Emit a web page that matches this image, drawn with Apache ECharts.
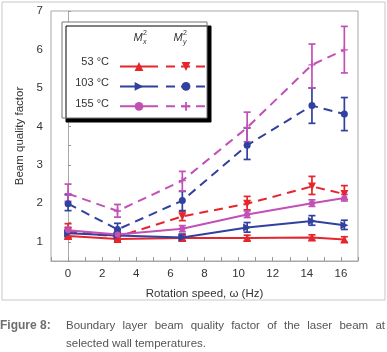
<!DOCTYPE html>
<html>
<head>
<meta charset="utf-8">
<script src="https://cdn.jsdelivr.net/npm/echarts@6/dist/echarts.min.js"></script>
<style>
  html, body { margin: 0; padding: 0; background: #fff; }
  #chart { width: 387px; height: 352px; }
</style>
</head>
<body>
<div id="chart"></div>
<script>
// rotation speed (Hz)
var speed = [0, 2.9, 6.7, 10.5, 14.3, 16.2];

// 53 C
var mx53 = [1.15, 1.07, 1.10, 1.10, 1.11, 1.06];
var mx53Lo = [1.07, 1.00, 1.03, 1.03, 1.04, 0.99];
var mx53Hi = [1.23, 1.14, 1.17, 1.17, 1.18, 1.13];
var my53 = [1.27, 1.13, 1.66, 1.99, 2.44, 2.24];
var my53Lo = [1.08, 1.03, 1.55, 1.83, 2.23, 2.10];
var my53Hi = [1.47, 1.25, 1.78, 2.18, 2.70, 2.46];

// 103 C
var mx103 = [1.22, 1.16, 1.11, 1.37, 1.54, 1.43];
var mx103Lo = [1.12, 1.07, 1.03, 1.25, 1.43, 1.32];
var mx103Hi = [1.30, 1.25, 1.20, 1.50, 1.68, 1.56];
var my103 = [1.99, 1.32, 2.07, 3.51, 4.54, 4.32];
var my103Lo = [1.81, 1.17, 1.81, 3.14, 4.08, 3.89];
var my103Hi = [2.22, 1.48, 2.31, 3.96, 5.00, 4.75];

// 155 C
var mx155 = [1.30, 1.19, 1.34, 1.71, 2.00, 2.14];
var mx155Lo = [1.22, 1.10, 1.26, 1.63, 1.92, 2.06];
var mx155Hi = [1.38, 1.28, 1.42, 1.80, 2.09, 2.23];
var my155 = [2.25, 1.80, 2.59, 3.97, 5.60, 5.99];
var my155Lo = [2.05, 1.64, 2.32, 3.60, 5.00, 5.39];
var my155Hi = [2.50, 1.97, 2.83, 4.37, 6.14, 6.60];

var tempLabels = ['53 °C', '103 °C', '155 °C'];

var RED = '#e5262d', BLUE = '#3041a0', MAG = '#c251b6';
var PLUS = 'path://M4,0H6V4H10V6H6V10H4V6H0V4H4Z';
var FONT = 'Liberation Sans, Arial, sans-serif';

var chart = echarts.init(document.getElementById('chart'));

function pts(ys) {
    return speed.map(function (s, i) { return [s, ys[i]]; });
}
function bars(lo, hi) {
    return speed.map(function (s, i) { return [s, lo[i], hi[i]]; });
}

function lineSeries(name, ys, color, dashed, symbol, rotate, size) {
    return {
        name: name,
        type: 'line',
        data: pts(ys),
        symbol: symbol,
        symbolSize: size,
        symbolRotate: rotate,
        color: color,
        itemStyle: { color: color },
        lineStyle: { color: color, width: 2, type: dashed ? [9, 6] : 'solid' },
        z: 3
    };
}

function errSeries(lo, hi, color) {
    return {
        type: 'custom',
        data: bars(lo, hi),
        encode: { x: 0, y: [1, 2] },
        silent: true,
        z: 2,
        renderItem: function (params, api) {
            var a = api.coord([api.value(0), api.value(1)]);
            var b = api.coord([api.value(0), api.value(2)]);
            var w = 3.5;
            var st = { stroke: color, lineWidth: 1.7 };
            return {
                type: 'group',
                children: [
                    { type: 'line', shape: { x1: a[0], y1: a[1], x2: b[0], y2: b[1] }, style: st },
                    { type: 'line', shape: { x1: a[0] - w, y1: a[1], x2: a[0] + w, y2: a[1] }, style: st },
                    { type: 'line', shape: { x1: b[0] - w, y1: b[1], x2: b[0] + w, y2: b[1] }, style: st }
                ]
            };
        }
    };
}

// legend text / header as graphics
var graphics = [
    { type: 'rect', shape: { x: 2, y: 2, width: 383, height: 298 },
      style: { fill: 'none', stroke: '#c8c8c8', lineWidth: 1 }, z: -1 },
    { type: 'rect', shape: { x: 62, y: 22, width: 145, height: 96 },
      style: { fill: '#fff', stroke: '#777', lineWidth: 1,
               shadowColor: '#000', shadowOffsetX: 4, shadowOffsetY: 4, shadowBlur: 0 }, z: 10 },
    { type: 'text', x: 138, y: 38, z: 11,
      style: { text: 'M', font: 'italic 11px ' + FONT, fill: '#333', align: 'center', verticalAlign: 'middle' } },
    { type: 'text', x: 143, y: 33, z: 11,
      style: { text: '2', font: '7px ' + FONT, fill: '#333', verticalAlign: 'middle' } },
    { type: 'text', x: 143, y: 42, z: 11,
      style: { text: 'x', font: 'italic 7px ' + FONT, fill: '#333', verticalAlign: 'middle' } },
    { type: 'text', x: 178, y: 38, z: 11,
      style: { text: 'M', font: 'italic 11px ' + FONT, fill: '#333', align: 'center', verticalAlign: 'middle' } },
    { type: 'text', x: 183, y: 33, z: 11,
      style: { text: '2', font: '7px ' + FONT, fill: '#333', verticalAlign: 'middle' } },
    { type: 'text', x: 183, y: 42, z: 11,
      style: { text: 'y', font: 'italic 7px ' + FONT, fill: '#333', verticalAlign: 'middle' } }
];
tempLabels.forEach(function (t, i) {
    graphics.push({ type: 'text', x: 109, y: 62 + i * 21, z: 11,
        style: { text: t, font: '11px ' + FONT, fill: '#333', align: 'right', verticalAlign: 'middle' } });
});

// caption, first line justified
var ctx = document.createElement('canvas').getContext('2d');
ctx.font = '11.5px ' + FONT;
var words = 'Boundary layer beam quality factor of the laser beam at'.split(' ');
var wsum = 0;
words.forEach(function (w) { wsum += ctx.measureText(w).width; });
var gap = (385 - 66 - wsum) / (words.length - 1);
var cx = 66;
words.forEach(function (w) {
    graphics.push({ type: 'text', x: cx, y: 326,
        style: { text: w, font: '11.5px ' + FONT, fill: '#555', verticalAlign: 'middle' } });
    cx += ctx.measureText(w).width + gap;
});
graphics.push({ type: 'text', x: 66, y: 344,
    style: { text: 'selected wall temperatures.', font: '11.5px ' + FONT, fill: '#555', verticalAlign: 'middle' } });
graphics.push({ type: 'text', x: 0, y: 326,
    style: { text: 'Figure 8:', font: 'bold 12px "Liberation Sans Narrow", ' + FONT, fill: '#6e6e6e', verticalAlign: 'middle' } });

var option = {
    backgroundColor: '#fff',
    animation: false,
    textStyle: { fontFamily: FONT },
    grid: {
        left: 51, right: 29, top: 11, bottom: 91,
        show: true, borderColor: '#a8a8a8', borderWidth: 1
    },
    legend: [
        {
            data: ['53 Mx', '103 Mx', '155 Mx'],
            orient: 'vertical', left: 114, top: 56,
            itemWidth: 38, itemHeight: 11, itemGap: 10,
            formatter: function () { return ''; },
            selectedMode: false, z: 12
        },
        {
            data: ['53 My', '103 My', '155 My'],
            orient: 'vertical', left: 160, top: 56,
            itemWidth: 40, itemHeight: 11, itemGap: 10,
            formatter: function () { return ''; },
            selectedMode: false, z: 12
        }
    ],
    xAxis: {
        type: 'value', min: -1, max: 17, interval: 1,
        name: 'Rotation speed, ω (Hz)', nameLocation: 'middle', nameGap: 27,
        nameTextStyle: { fontSize: 11.5, color: '#333' },
        axisLine: { lineStyle: { color: '#a8a8a8' } },
        axisTick: { inside: true, length: 4, lineStyle: { color: '#999' } },
        axisLabel: {
            fontSize: 11.5, color: '#333', margin: 7,
            formatter: function (v) { return (v >= 0 && v % 2 === 0) ? String(v) : ''; }
        },
        splitLine: { show: false }
    },
    yAxis: {
        type: 'value', min: 0.5, max: 7, interval: 0.5,
        name: 'Beam quality factor', nameLocation: 'middle', nameGap: 19,
        nameTextStyle: { fontSize: 11.5, color: '#333' },
        axisLine: { show: true, lineStyle: { color: '#a8a8a8' } },
        axisTick: { inside: true, length: 3, lineStyle: { color: '#999' } },
        axisLabel: {
            fontSize: 11.5, color: '#333', margin: 8,
            formatter: function (v) { return v % 1 === 0 ? String(v) : ''; }
        },
        splitLine: { show: false }
    },
    graphic: graphics,
    series: [
        errSeries(mx53Lo, mx53Hi, RED),
        errSeries(my53Lo, my53Hi, RED),
        errSeries(mx103Lo, mx103Hi, BLUE),
        errSeries(my103Lo, my103Hi, BLUE),
        errSeries(mx155Lo, mx155Hi, MAG),
        errSeries(my155Lo, my155Hi, MAG),
        lineSeries('53 Mx', mx53, RED, false, 'triangle', 0, 8),
        lineSeries('53 My', my53, RED, true, 'triangle', 180, 8),
        lineSeries('103 Mx', mx103, BLUE, false, 'triangle', -90, 8),
        lineSeries('103 My', my103, BLUE, true, 'circle', 0, 7),
        lineSeries('155 Mx', mx155, MAG, false, 'circle', 0, 6),
        lineSeries('155 My', my155, MAG, true, PLUS, 0, 7)
    ]
};
chart.setOption(option);
</script>
</body>
</html>
